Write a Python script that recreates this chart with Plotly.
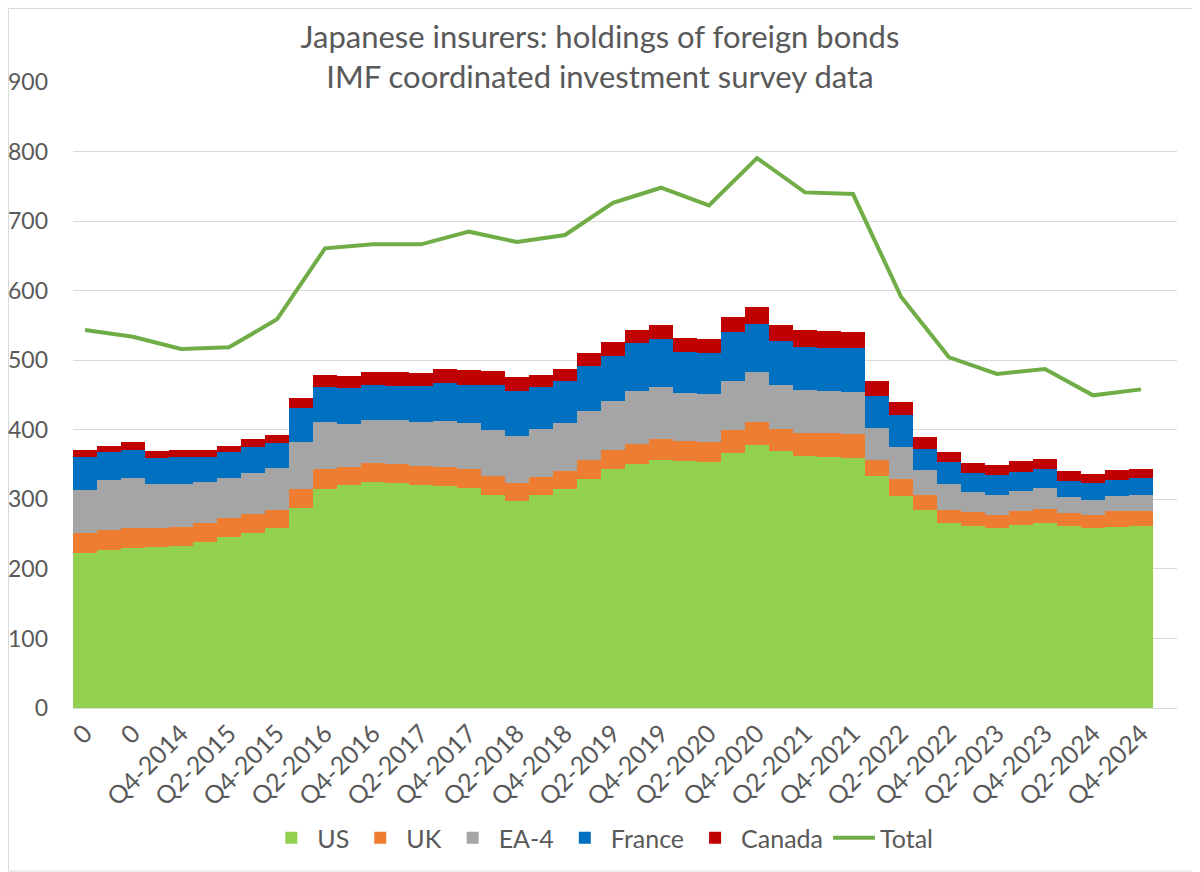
import plotly.graph_objects as go

# Quarterly categories Q4-2013 .. Q4-2024
quarters = ["Q4-2013"] + [f"Q{q}-{y}" for y in range(2014, 2025) for q in (1, 2, 3, 4)]

# Tick labels shown every second category (as in the original)
tick_labels = ["0", "0", "Q4-2014", "Q2-2015", "Q4-2015", "Q2-2016", "Q4-2016", "Q2-2017",
               "Q4-2017", "Q2-2018", "Q4-2018", "Q2-2019", "Q4-2019", "Q2-2020", "Q4-2020",
               "Q2-2021", "Q4-2021", "Q2-2022", "Q4-2022", "Q2-2023", "Q4-2023", "Q2-2024", "Q4-2024"]

us = [223.3, 227.1, 230.5, 231.5, 232.9, 238.6, 246.3, 251.6, 259.3, 288.0, 314.8, 321.0, 324.9,
      323.5, 321.0, 319.6, 316.3, 306.7, 298.0, 306.2, 314.8, 329.2, 343.6, 351.2, 357.0, 355.1,
      353.7, 366.8, 378.5, 369.7, 362.7, 361.3, 359.9, 334.0, 305.2, 285.1, 266.4, 262.1, 259.2,
      263.1, 266.4, 262.1, 259.2, 260.7, 261.6]
uk = [27.8, 28.8, 28.8, 27.8, 27.3, 27.8, 27.3, 27.3, 25.8, 26.8, 28.8, 25.9, 27.3, 27.3, 27.4,
      27.3, 27.8, 27.3, 25.7, 26.3, 25.9, 27.3, 27.7, 28.8, 29.7, 28.7, 28.7, 32.4, 32.7, 31.4,
      32.2, 34.0, 34.5, 23.0, 24.0, 20.7, 18.2, 19.7, 18.3, 20.1, 19.7, 18.7, 17.8, 22.1, 22.1]
ea4 = [62.3, 71.4, 71.4, 62.3, 61.8, 58.5, 57.5, 58.9, 59.5, 67.4, 67.6, 61.4, 61.4, 62.8, 62.8,
       65.7, 65.6, 66.1, 67.6, 68.6, 69.0, 70.5, 70.5, 76.2, 74.8, 68.6, 68.6, 71.1, 71.8, 63.2,
       62.3, 60.9, 59.9, 46.0, 46.5, 35.9, 37.9, 28.3, 28.7, 28.8, 30.6, 22.5, 22.0, 21.5, 22.5]
france = [47.9, 40.3, 40.2, 37.3, 38.4, 35.5, 36.5, 37.9, 36.8, 49.3, 50.3, 51.7, 50.7, 49.8, 51.2,
          54.6, 55.1, 64.7, 64.9, 59.9, 60.4, 64.2, 64.7, 68.5, 69.0, 59.8, 59.8, 70.0, 69.5, 63.3,
          61.8, 61.8, 62.8, 45.5, 46.0, 30.6, 30.7, 28.2, 28.8, 27.7, 26.9, 23.0, 24.5, 23.5, 23.9]
canada = [9.6, 9.0, 11.5, 11.0, 10.5, 10.5, 9.0, 10.5, 11.1, 14.5, 17.7, 17.8, 18.3, 19.2, 19.2,
          20.2, 20.7, 20.2, 19.2, 17.7, 17.3, 19.6, 19.7, 18.7, 20.1, 20.2, 20.2, 21.4, 23.5, 23.0,
          24.4, 24.0, 23.4, 22.1, 18.2, 17.3, 14.8, 14.4, 14.8, 15.8, 14.8, 14.4, 12.9, 14.8, 14.0]
# Total is semi-annual (every second quarter); gaps are connected
total = [543.4, None, 533.8, None, 516.1, None, 518.5, None, 558.8, None, 660.8, None, 666.6, None,
         666.6, None, 684.8, None, 669.9, None, 680.0, None, 726.4, None, 748.0, None, 722.6, None,
         790.7, None, 741.3, None, 738.9, None, 591.3, None, 504.2, None, 480.2, None, 487.4, None,
         449.5, None, 458.1]

series = [("US", us, "#92D050"), ("UK", uk, "#ED7D31"), ("EA-4", ea4, "#A5A5A5"),
          ("France", france, "#0070C0"), ("Canada", canada, "#C00000")]

FONT = "Lato"
TXT = "#595959"

fig = go.Figure()
for name, vals, col in series:
    fig.add_trace(go.Bar(x=quarters, y=vals, name=name, marker=dict(color=col, line=dict(width=0))))
fig.add_trace(go.Scatter(x=quarters, y=total, name="Total", mode="lines", connectgaps=True,
                         line=dict(color="#70AD47", width=4)))

fig.update_layout(
    width=1200, height=872,
    barmode="stack", bargap=0,
    plot_bgcolor="white", paper_bgcolor="white",
    margin=dict(l=65, r=31, t=74, b=172, autoexpand=False),
    font=dict(family=FONT, color=TXT, size=24),
    title=dict(text="Japanese insurers: holdings of foreign bonds<br>IMF coordinated investment survey data",
               x=0.4933, xref="container", xanchor="center", y=0.954, yanchor="top", yref="container",
               font=dict(family=FONT, size=31, color=TXT)),
    legend=dict(orientation="h", x=0.479, xanchor="center", y=-0.2077, yanchor="middle",
                traceorder="normal", font=dict(size=25, color=TXT), itemwidth=42),
    showlegend=True,
)
fig.update_xaxes(type="category", categoryorder="array", categoryarray=quarters,
                 range=[-0.5, len(quarters) + 0.5], automargin=False,
                 tickmode="array", tickvals=quarters[::2], ticktext=tick_labels,
                 tickangle=-45, showgrid=False, showline=True, linecolor="#D9D9D9", linewidth=1,
                 ticks="", tickfont=dict(size=25, color=TXT))
fig.update_yaxes(range=[0, 900], dtick=100, showgrid=True, gridcolor="#D9D9D9", gridwidth=1,
                 zeroline=False, showline=False, ticks="", ticklabelstandoff=24, automargin=False,
                 tickfont=dict(size=23, color=TXT))
fig.add_shape(type="rect", xref="paper", yref="paper",
              x0=-0.0584, x1=1.0199, y0=-0.2604, y1=1.1174,
              line=dict(color="#D9D9D9", width=1), fillcolor="rgba(0,0,0,0)", layer="below")

fig.write_html("out.html")
